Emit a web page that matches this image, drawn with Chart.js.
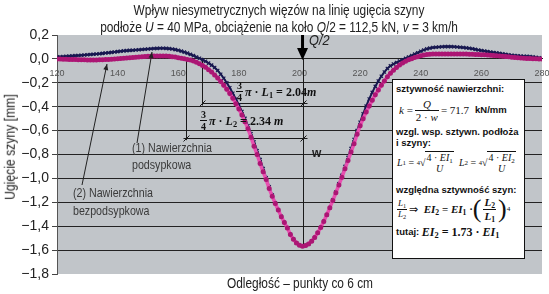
<!DOCTYPE html>
<html><head><meta charset="utf-8">
<script src="https://cdn.jsdelivr.net/npm/chart.js@4.4.1/dist/chart.umd.min.js"></script>
<style>
html,body{margin:0;padding:0;background:#fff;}
#wrap{position:relative;width:549px;height:294px;overflow:hidden;font-family:'Liberation Sans',Arial,sans-serif;color:#222;}
#c{position:absolute;left:0;top:0;}
.t{position:absolute;white-space:nowrap;line-height:1;}
.c{transform:translateX(-50%) scaleX(0.82);}
.ann{color:#3a3a3a;font-size:13px;transform:scaleX(0.82);transform-origin:0 50%;}
.serif{font-family:'Liberation Serif','Times New Roman',serif;}
.fx{position:absolute;display:flex;align-items:center;white-space:nowrap;line-height:1;}
.fr{display:inline-flex;flex-direction:column;align-items:center;margin:0 2px;}
.fr>span{padding:0 1px;line-height:1.1;}
.fr>span+span{border-top:1px solid #111;}
#box{position:absolute;left:392px;top:79px;width:131px;height:178px;border:1px solid #111;background:#fff;}
#box .b{position:absolute;left:3px;font-family:'Liberation Sans',Arial,sans-serif;font-weight:bold;font-size:9.5px;line-height:1;white-space:nowrap;color:#111;}
#box .fx{font-family:'Liberation Serif','Times New Roman',serif;font-size:11px;color:#111;}
sub{font-size:70%;vertical-align:-2px;line-height:0;}
sup{font-size:65%;vertical-align:5px;line-height:0;}
</style></head>
<body><div id="wrap">
<canvas id="c" width="549" height="294"></canvas>
<div class="t c" style="left:279px;top:3px;font-size:14.5px;">Wpływ niesymetrycznych więzów na linię ugięcia szyny</div>
<div class="t c" style="left:279px;top:20px;font-size:14.5px;">podłoże <i>U</i> = 40 MPa, obciążenie na koło <i>Q</i>/2 = 112,5 kN, <i>v</i> = 3 km/h</div>
<div class="t" style="left:10px;top:147px;font-size:14.5px;transform:translate(-50%,-50%) rotate(-90deg) scaleX(0.84);">Ugięcie szyny [mm]</div>
<div class="t c" style="left:300px;top:276px;font-size:14.5px;">Odległość – punkty co 6 cm</div>
<div class="t" style="left:309px;top:32px;font-size:15px;font-style:italic;transform:scaleX(0.85);transform-origin:0 50%;">Q/2</div>
<div class="t ann" style="left:132px;top:141px;">(1) Nawierzchnia</div>
<div class="t ann" style="left:132px;top:158px;">podsypkowa</div>
<div class="t ann" style="left:73px;top:186px;">(2) Nawierzchnia</div>
<div class="t ann" style="left:73px;top:204px;">bezpodsypkowa</div>
<div class="t" style="left:312px;top:147px;font-weight:bold;font-size:12px;">w</div>
<div class="fx serif" style="left:234px;top:80px;font-weight:bold;font-size:12px;color:#111;"><span class="fr" style="font-size:10px;"><span>3</span><span>4</span></span><span><i>π</i> · <i>L</i><sub>1</sub> = 2.04<i>m</i></span></div>
<div class="fx serif" style="left:198px;top:109px;font-weight:bold;font-size:12px;color:#111;"><span class="fr" style="font-size:10px;"><span>3</span><span>4</span></span><span><i>π</i> · <i>L</i><sub>2</sub> = 2.34 <i>m</i></span></div>
<div id="box">
  <div class="b" style="top:4px;">sztywność nawierzchni:</div>
  <div class="fx" style="left:6px;top:18px;"><i>k</i>&nbsp;=<span class="fr"><span><i>Q</i></span><span>2 · <i>w</i></span></span>= 71.7</div>
  <div class="b" style="top:25px;left:82px;">kN/mm</div>
  <div class="b" style="top:47px;">wzgl. wsp. sztywn. podłoża</div>
  <div class="b" style="top:58px;">i szyny:</div>
  <div class="fx" style="left:4px;top:71px;font-size:10px;"><i>L</i><sub>1</sub>&nbsp;=&nbsp;<sup>4</sup>√<span style="border-top:1px solid #111;"><span class="fr" style="margin:0;"><span>4 · <i>EI</i><sub>1</sub></span><span style="border-top:none;"><i>U</i></span></span></span></div>
  <div class="fx" style="left:66px;top:71px;font-size:10px;"><i>L</i><sub>2</sub>&nbsp;=&nbsp;<sup>4</sup>√<span style="border-top:1px solid #111;"><span class="fr" style="margin:0;"><span>4 · <i>EI</i><sub>2</sub></span><span style="border-top:none;"><i>U</i></span></span></span></div>
  <div class="b" style="top:105px;">względna sztywność szyn:</div>
  <div class="fx" style="left:2px;top:116px;font-size:11px;"><span class="fr" style="font-size:9px;"><span><i>L</i><sub>1</sub></span><span><i>L</i><sub>2</sub></span></span>⇒&nbsp;&nbsp;<b><i>EI</i><sub>2</sub> = <i>EI</i><sub>1</sub> ·</b><span style="font-size:26px;font-weight:normal;">(</span><span class="fr" style="font-size:11px;"><span><b><i>L</i><sub>2</sub></b></span><span><b><i>L</i><sub>1</sub></b></span></span><span style="font-size:26px;">)</span><sup style="vertical-align:14px;">4</sup></div>
  <div class="fx" style="left:3px;top:146px;font-size:12px;"><span style="font-family:'Liberation Sans',Arial,sans-serif;font-weight:bold;font-size:9.5px;">tutaj:&nbsp;</span><b><i>EI</i><sub>2</sub> = 1.73 · <i>EI</i><sub>1</sub></b></div>
</div>
</div>
<script>
const distance = [
120,121,122,123,124,125,126,127,128,129,
130,131,132,133,134,135,136,137,138,139,
140,141,142,143,144,145,146,147,148,149,
150,151,152,153,154,155,156,157,158,159,
160,161,162,163,164,165,166,167,168,169,
170,171,172,173,174,175,176,177,178,179,
180,181,182,183,184,185,186,187,188,189,
190,191,192,193,194,195,196,197,198,199,
200,201,202,203,204,205,206,207,208,209,
210,211,212,213,214,215,216,217,218,219,
220,221,222,223,224,225,226,227,228,229,
230,231,232,233,234,235,236,237,238,239,
240,241,242,243,244,245,246,247,248,249,
250,251,252,253,254,255,256,257,258,259,
260,261,262,263,264,265,266,267,268,269,
270,271,272,273,274,275,276,277,278,279,280];

// (1) Nawierzchnia podsypkowa
const deflectionBallasted = [
0.015,0.017,0.019,0.021,0.023,0.025,0.027,0.029,0.031,0.033,
0.035,0.037,0.039,0.041,0.043,0.046,0.049,0.052,0.055,0.058,
0.061,0.064,0.067,0.069,0.071,0.073,0.075,0.077,0.079,0.081,
0.083,0.085,0.087,0.088,0.089,0.089,0.088,0.086,0.083,0.078,
0.072,0.065,0.057,0.048,0.038,0.027,0.016,0.005,-0.007,-0.020,
-0.035,-0.052,-0.072,-0.097,-0.128,-0.162,-0.200,-0.242,-0.288,-0.336,
-0.386,-0.440,-0.498,-0.560,-0.626,-0.695,-0.768,-0.843,-0.918,-0.995,
-1.070,-1.140,-1.205,-1.262,-1.318,-1.368,-1.414,-1.468,-1.508,-1.540,
-1.560,-1.567,-1.562,-1.548,-1.525,-1.495,-1.455,-1.410,-1.360,-1.305,
-1.245,-1.180,-1.115,-1.045,-0.975,-0.900,-0.825,-0.750,-0.675,-0.600,
-0.530,-0.460,-0.395,-0.335,-0.280,-0.230,-0.185,-0.145,-0.110,-0.080,
-0.058,-0.043,-0.030,-0.018,-0.007,0.004,0.016,0.028,0.040,0.052,
0.064,0.075,0.084,0.090,0.095,0.098,0.100,0.102,0.103,0.103,
0.103,0.102,0.100,0.098,0.095,0.092,0.089,0.085,0.080,0.075,
0.070,0.066,0.062,0.058,0.054,0.050,0.046,0.042,0.038,0.034,
0.031,0.028,0.026,0.024,0.022,0.021,0.020,0.017,0.013,0.009,0.006];

// (2) Nawierzchnia bezpodsypkowa
const deflectionSlab = [
0.000,-0.001,-0.002,-0.003,-0.004,-0.005,-0.006,-0.007,-0.008,-0.008,
-0.009,-0.009,-0.009,-0.009,-0.008,-0.007,-0.006,-0.004,-0.002,0.000,
0.002,0.004,0.006,0.008,0.010,0.012,0.014,0.016,0.018,0.020,
0.022,0.023,0.024,0.025,0.025,0.025,0.024,0.022,0.019,0.015,
0.010,0.006,0.002,-0.004,-0.010,-0.018,-0.028,-0.040,-0.055,-0.070,
-0.090,-0.110,-0.135,-0.160,-0.190,-0.220,-0.255,-0.290,-0.330,-0.375,
-0.420,-0.470,-0.525,-0.585,-0.655,-0.730,-0.800,-0.875,-0.945,-1.010,
-1.085,-1.150,-1.210,-1.265,-1.320,-1.370,-1.415,-1.470,-1.510,-1.540,
-1.560,-1.567,-1.562,-1.548,-1.525,-1.495,-1.455,-1.410,-1.360,-1.305,
-1.245,-1.185,-1.120,-1.055,-0.990,-0.920,-0.850,-0.780,-0.710,-0.630,
-0.560,-0.500,-0.445,-0.395,-0.345,-0.300,-0.260,-0.220,-0.185,-0.150,
-0.120,-0.094,-0.071,-0.051,-0.034,-0.020,-0.008,0.002,0.011,0.019,
0.026,0.032,0.036,0.039,0.041,0.042,0.042,0.042,0.042,0.042,
0.042,0.042,0.042,0.041,0.041,0.040,0.039,0.038,0.037,0.036,
0.035,0.034,0.033,0.031,0.029,0.027,0.025,0.022,0.020,0.017,
0.014,0.012,0.009,0.007,0.005,0.004,0.003,0.002,0.001,0.000,0.000];

const xTickValues = [120,140,160,180,200,220,240,260,280];
const yTickValues = [0.2,0.0,-0.2,-0.4,-0.6,-0.8,-1.0,-1.2,-1.4,-1.6,-1.8];

const loadPosition = 201;       // Q/2
const zeroL1 = 167.7;           // 3/4 pi L1
const zeroL2 = 162.4;           // 3/4 pi L2

const FONT = "'Liberation Sans',Arial,sans-serif";

function fmt(v){
  const s = (Math.round(v*10)/10).toFixed(1).replace('.', ',');
  if (s === '-0,0') return '0,0';
  return s.startsWith('-') ? '\u2212' + s.slice(1) : s;
}

function arrowHead(ctx, x1, y1, x2, y2, len, wid){
  const a = Math.atan2(y2-y1, x2-x1);
  ctx.beginPath();
  ctx.moveTo(x2, y2);
  ctx.lineTo(x2 - len*Math.cos(a) + wid*Math.sin(a), y2 - len*Math.sin(a) - wid*Math.cos(a));
  ctx.lineTo(x2 - len*Math.cos(a) - wid*Math.sin(a), y2 - len*Math.sin(a) + wid*Math.cos(a));
  ctx.closePath();
  ctx.fill();
}

const decor = {
  id: 'decor',
  beforeDraw(chart){
    const {ctx, chartArea:a} = chart;
    ctx.save();
    ctx.fillStyle = '#c1c5c9';
    ctx.fillRect(a.left, a.top, a.right-a.left, a.bottom-a.top);
    ctx.restore();
  },
  beforeDatasetsDraw(chart){
    const {ctx, scales:{x, y}} = chart;
    ctx.save();
    ctx.strokeStyle = '#1a1a1a';
    ctx.lineWidth = 1;
    const xl = Math.round(x.getPixelForValue(loadPosition)) + 0.5;
    const x1 = Math.round(x.getPixelForValue(zeroL1)) + 0.5;
    const x2 = Math.round(x.getPixelForValue(zeroL2)) + 0.5;
    const yTop = y.getPixelForValue(0.01);
    const yMin = y.getPixelForValue(-1.567);
    const yd1 = Math.round(y.getPixelForValue(-0.368)) + 0.5;
    const yd2 = Math.round(y.getPixelForValue(-0.66)) + 0.5;
    ctx.beginPath();
    ctx.moveTo(xl, yTop); ctx.lineTo(xl, yMin);
    ctx.moveTo(x1, yTop); ctx.lineTo(x1, y.getPixelForValue(-0.39));
    ctx.moveTo(x2, yTop); ctx.lineTo(x2, y.getPixelForValue(-0.68));
    ctx.moveTo(x1, yd1); ctx.lineTo(xl + 4, yd1);
    ctx.moveTo(x2 - 3, yd2); ctx.lineTo(xl + 4, yd2);
    [[x1, yd1],[xl, yd1],[x2, yd2],[xl, yd2]].forEach(([px, py]) => {
      ctx.moveTo(px - 3, py + 3); ctx.lineTo(px + 3, py - 3);
    });
    ctx.stroke();
    ctx.restore();
  },
  afterDatasetsDraw(chart){
    const {ctx, scales:{x}} = chart;
    ctx.save();
    ctx.fillStyle = '#000';
    const xl = x.getPixelForValue(loadPosition);
    ctx.fillRect(xl - 1.5, 35, 3, 14);
    arrowHead(ctx, xl, 40, xl, 60, 12, 5.5);
    ctx.lineWidth = 1;
    ctx.strokeStyle = '#222';
    ctx.fillStyle = '#222';
    const arrows = [[137,143,152,52],[82,185,107,64]];
    arrows.forEach(([ax, ay, bx, by]) => {
      ctx.beginPath(); ctx.moveTo(ax, ay); ctx.lineTo(bx, by); ctx.stroke();
      arrowHead(ctx, ax, ay, bx, by, 6, 2.5);
    });
    ctx.restore();
  }
};

new Chart(document.getElementById('c'), {
  type: 'line',
  data: {
    datasets: [
      {
        label: '(2) Nawierzchnia bezpodsypkowa',
        data: distance.map((d, i) => ({x: d, y: deflectionSlab[i]})),
        borderColor: 'rgb(232,80,176)',
        borderWidth: 3.5,
        pointRadius: 2.5,
        pointBackgroundColor: 'rgb(172,22,116)',
        pointBorderWidth: 0,
        tension: 0,
        order: 0
      },
      {
        label: '(1) Nawierzchnia podsypkowa',
        data: distance.map((d, i) => ({x: d, y: deflectionBallasted[i]})),
        borderColor: 'rgb(24,24,80)',
        borderWidth: 2,
        pointStyle: 'crossRot',
        pointRadius: 2.3,
        pointBorderColor: 'rgb(24,24,80)',
        pointBorderWidth: 1.2,
        tension: 0,
        order: 1
      }
    ]
  },
  options: {
    responsive: false,
    animation: false,
    events: [],
    layout: { padding: { left: 0, top: 35, right: 7, bottom: 20 } },
    plugins: { legend: { display: false }, tooltip: { enabled: false }, title: { display: false } },
    scales: {
      x: {
        type: 'linear',
        min: 120, max: 280,
        position: { y: 0 },
        afterBuildTicks: s => { s.ticks = xTickValues.map(v => ({ value: v })); },
        afterFit: s => { s.paddingLeft = 0; s.paddingRight = 0; },
        ticks: { font: { family: FONT, size: 9 }, color: '#555', padding: 9, maxRotation: 0, autoSkip: false },
        grid: { drawOnChartArea: false, drawTicks: false },
        border: { display: true, color: '#222', width: 1 }
      },
      y: {
        min: -1.8, max: 0.2,
        afterBuildTicks: s => { s.ticks = yTickValues.map(v => ({ value: v })); },
        afterFit: s => { s.width = 57; s.paddingTop = 0; s.paddingBottom = 0; },
        ticks: { font: { family: FONT, size: 14 }, color: '#222', padding: 3, callback: v => fmt(v) },
        grid: {
          color: c => (c.tick && (Math.abs(c.tick.value - 0.2) < 1e-6 || Math.abs(c.tick.value + 1.8) < 1e-6)) ? 'rgba(0,0,0,0)' : '#232323',
          tickColor: '#444', tickLength: 5, lineWidth: 1
        },
        border: { display: true, color: '#555', width: 1 }
      }
    }
  },
  plugins: [decor]
});
</script>
</body></html>
